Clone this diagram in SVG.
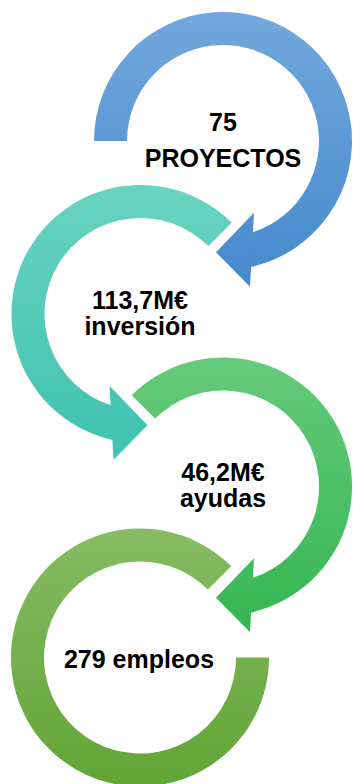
<svg xmlns="http://www.w3.org/2000/svg" width="353" height="784" viewBox="0 0 353 784">
  <defs>
    <linearGradient id="gBlue" x1="0" y1="0" x2="0" y2="1">
      <stop offset="0" stop-color="#72A8DD"/>
      <stop offset="1" stop-color="#4689CD"/>
    </linearGradient>
    <linearGradient id="gTeal" x1="0" y1="0" x2="0" y2="1">
      <stop offset="0" stop-color="#68D3C0"/>
      <stop offset="1" stop-color="#3FC3AF"/>
    </linearGradient>
    <linearGradient id="gGreen" x1="0" y1="0" x2="0" y2="1">
      <stop offset="0" stop-color="#66CA7B"/>
      <stop offset="1" stop-color="#34B652"/>
    </linearGradient>
    <linearGradient id="gOlive" x1="0" y1="0" x2="0" y2="1">
      <stop offset="0" stop-color="#86BB64"/>
      <stop offset="1" stop-color="#62A536"/>
    </linearGradient>
  </defs>
  <style>
    .lbl { font-family: "Liberation Sans", Arial, sans-serif; font-weight: bold; font-size: 25px; fill: #000000; text-anchor: middle; }
  </style>
  <rect width="353" height="784" fill="#FFFFFF"/>
  <g id="node-proyectos">
    <path fill="url(#gBlue)" d="M94,141 A129,129 0 1 1 251.06,266.9 L250,286.7 L216,252.3 L254,212.7 L252.95,232.2 A96,96 0 1 0 127,141 Z"/>
    <text class="lbl" x="223" y="131">75</text>
    <text class="lbl" x="223" y="167">PROYECTOS</text>
  </g>
  <g id="node-inversion">
    <path fill="url(#gTeal)" d="M231.72,222.78 A129,129 0 1 0 112.44,439.9 L113.5,459.7 L147.5,425.3 L109.5,385.7 L110.55,405.2 A96,96 0 1 1 208.38,246.12 Z"/>
    <text class="lbl" x="140" y="309">113,7M€</text>
    <text class="lbl" x="140" y="335">inversión</text>
  </g>
  <g id="node-ayudas">
    <path fill="url(#gGreen)" d="M131.78,395.28 A129,129 0 1 1 251.06,612.4 L250,632.2 L216,597.8 L254,558.2 L252.95,577.7 A96,96 0 1 0 155.12,418.62 Z"/>
    <text class="lbl" x="223" y="481">46,2M€</text>
    <text class="lbl" x="223" y="507">ayudas</text>
  </g>
  <g id="node-empleos">
    <path fill="url(#gOlive)" d="M231.22,566.28 A129,129 0 1 0 269,657.5 L236,657.5 A96,96 0 1 1 207.88,589.62 Z"/>
    <text class="lbl" x="139" y="668">279 empleos</text>
  </g>
  <g id="connectors"/>
</svg>
